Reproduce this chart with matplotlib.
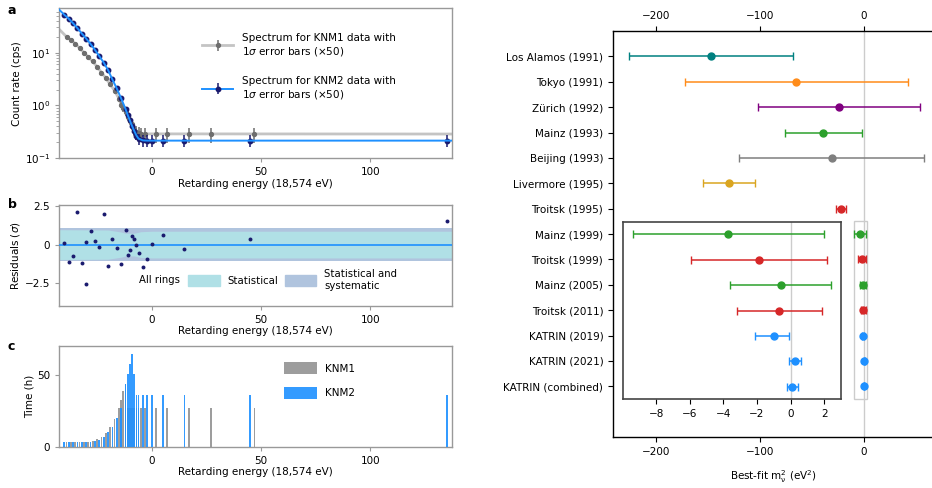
import numpy as np
import matplotlib
matplotlib.use("Agg")
import matplotlib.pyplot as plt
from matplotlib.patches import Rectangle, Patch
from matplotlib.lines import Line2D

plt.rcParams['font.family'] = ['DejaVu Sans']
plt.rcParams['font.size'] = 7
plt.rcParams['mathtext.default'] = 'regular'

# ---------------- data ----------------
# panel a: KNM2 spectrum
knm2_e = [-40, -38, -36, -34, -32, -30, -28, -26, -24, -22, -20, -18, -16, -14, -12, -11, -10, -9, -8, -7, -6, -4, -2, 0, 5, 15, 45, 135]
knm2_rate = [52, 44, 36, 29, 23, 18.5, 14.6, 11.3, 8.6, 6.5, 4.7, 3.1, 2.1, 1.36, 0.86, 0.66, 0.52, 0.41, 0.33, 0.27, 0.235, 0.22, 0.216, 0.216, 0.216, 0.216, 0.216, 0.216]
knm2_err = [1.5, 1.3, 1.1, 1.0, 0.8, 0.7, 0.6, 0.5, 0.4, 0.33, 0.27, 0.2, 0.15, 0.1, 0.07, 0.06, 0.055, 0.05, 0.05, 0.05, 0.055, 0.055, 0.055, 0.055, 0.055, 0.055, 0.055, 0.055]
fit2_e = [-42.5, -40, -38, -36, -34, -32, -30, -28, -26, -24, -22, -20, -18, -16, -14, -12, -11, -10, -9, -8, -7, -6, -4, -2, 0, 137.5]
fit2_rate = [66, 52, 44, 36, 29, 23, 18.5, 14.6, 11.3, 8.6, 6.5, 4.7, 3.1, 2.1, 1.36, 0.86, 0.66, 0.52, 0.41, 0.33, 0.27, 0.235, 0.218, 0.216, 0.216, 0.216]

# panel a: KNM1 spectrum
knm1_e = [-39, -37, -35, -33, -31, -29, -27, -25, -23, -21, -19, -17, -15, -14, -13, -12, -11, -10, -9, -8, -7, -6, -5, -3, 2, 7, 17, 27, 47]
knm1_rate = [20, 17.4, 14.8, 12.2, 10, 8.2, 6.8, 5.4, 4.2, 3.3, 2.5, 1.9, 1.35, 1.04, 0.88, 0.75, 0.61, 0.51, 0.44, 0.36, 0.31, 0.295, 0.29, 0.288, 0.288, 0.288, 0.288, 0.288, 0.288]
knm1_err = [0.9, 0.8, 0.7, 0.6, 0.55, 0.5, 0.45, 0.4, 0.35, 0.3, 0.25, 0.2, 0.15, 0.13, 0.12, 0.11, 0.1, 0.09, 0.09, 0.09, 0.09, 0.09, 0.09, 0.09, 0.09, 0.09, 0.09, 0.09, 0.09]
fit1_e = [-42.5, -39, -37, -35, -33, -31, -29, -27, -25, -23, -21, -19, -17, -15, -14, -13, -12, -11, -10, -9, -8, -7, -6, -5, 137.5]
fit1_rate = [28, 20, 17.4, 14.8, 12.2, 10, 8.2, 6.8, 5.4, 4.2, 3.3, 2.5, 1.9, 1.35, 1.04, 0.88, 0.75, 0.61, 0.51, 0.44, 0.36, 0.31, 0.295, 0.29, 0.288]

# panel b: residuals
res_e = [-40, -38, -36, -34, -32, -30, -29.9, -28, -26, -24, -22, -20, -18, -16, -14, -12, -11, -10, -9, -8, -7, -6, -4, -2, 0, 5, 15, 45, 135]
res_val = [0.11, -1.12, -0.71, 2.15, -1.18, 0.15, -2.54, 0.86, 0.21, -0.17, 1.98, -1.38, 0.37, -0.24, -1.27, 0.95, -0.65, -0.34, 0.58, 0.37, -0.02, -0.54, -1.46, -0.95, 0.04, 0.6, -0.26, 0.34, 1.53]
band_e = [-42.5, -20, -14, -12, -8, -5, 0, 137.5]
band_stat = [0.97, 0.95, 0.82, 0.74, 0.74, 0.84, 0.87, 0.87]
band_total = [1.05, 1.05, 1.05, 1.05, 1.05, 1.05, 1.05, 1.05]

# panel c: measurement time
time2 = [3, 3, 3, 3, 3, 3, 3, 4, 5, 7, 10, 14, 20, 27, 43.5, 50.5, 57.5, 64.7, 50.5, 36, 36, 36, 36, 36, 36, 36, 36, 36]
time1 = [3, 3, 3, 3, 3, 3.6, 4.2, 5.4, 7, 9.8, 13.5, 19, 27, 32.6, 38.4, 43.5, 27, 27, 27, 27, 27, 27, 27, 27, 27, 27, 27, 27, 27]

# right panel: best-fit neutrino mass squared
experiments = ["Los Alamos (1991)", "Tokyo (1991)", "Zürich (1992)", "Mainz (1993)", "Beijing (1993)",
               "Livermore (1995)", "Troitsk (1995)", "Mainz (1999)", "Troitsk (1999)", "Mainz (2005)",
               "Troitsk (2011)", "KATRIN (2019)", "KATRIN (2021)", "KATRIN (combined)"]
m2_best = [-147, -65, -24, -39, -31, -130, -22, -3.7, -1.9, -0.6, -0.67, -1.0, 0.26, 0.1]
m2_err_lo = [79, 107, 78, 37, 89, 25, 5.2, 5.7, 4.05, 3.0, 2.53, 1.1, 0.34, 0.33]
m2_err_hi = [79, 107, 78, 37, 89, 25, 5.2, 5.7, 4.05, 3.0, 2.53, 0.9, 0.34, 0.33]
exp_colors = ["#008080", "#ff8c1a", "#800080", "#2ca02c", "#7f7f7f", "#daa520", "#d62728",
              "#2ca02c", "#d62728", "#2ca02c", "#d62728", "#1e90ff", "#1e90ff", "#1e90ff"]

# ---------------- figure ----------------
W, H = 932, 488
fig = plt.figure(figsize=(W / 100, H / 100), dpi=100)

def box(l, t, r, b):
    return [l / W, 1 - b / H, (r - l) / W, (b - t) / H]

spine_gray = "#999999"
blue = "#1e90ff"
navy = "#1a1a6e"
FS = 7.5

def style_left(ax):
    for s in ax.spines.values():
        s.set_color(spine_gray)
        s.set_linewidth(1.0)
    ax.tick_params(direction='out', length=3, width=0.8, color=spine_gray, labelsize=FS)
    ax.tick_params(which='minor', direction='out', length=2, width=0.6, color=spine_gray)

xlim_left = (-42.3, 137.3)

# panel a
axa = fig.add_axes(box(59.3, 8.3, 451.7, 158.3))
l1, = axa.plot(fit1_e, fit1_rate, color="#c4c4c4", lw=2.0, zorder=1)
e1 = axa.errorbar(knm1_e, knm1_rate, yerr=knm1_err, fmt='o', color="#6e6e6e", ms=2.8, elinewidth=1.1, capsize=0, zorder=3)
e2 = axa.errorbar(knm2_e, knm2_rate, yerr=knm2_err, fmt='o', color=navy, ms=3.2, elinewidth=1.1, capsize=0, zorder=4)
l2, = axa.plot(fit2_e, fit2_rate, color=blue, lw=1.4, zorder=5)
axa.set_yscale('log')
axa.set_ylim(0.1, 69)
axa.set_xlim(*xlim_left)
axa.set_xticks([0, 50, 100])
axa.set_ylabel("Count rate (cps)", fontsize=FS, labelpad=2)
axa.set_xlabel("Retarding energy (18,574 eV)", fontsize=FS, labelpad=1)
style_left(axa)
axa.legend([(l1, e1), (l2, e2)],
           ["Spectrum for KNM1 data with\n1$\\mathit{\\sigma}$ error bars (×50)",
            "Spectrum for KNM2 data with\n1$\\mathit{\\sigma}$ error bars (×50)"],
           loc='upper left', bbox_to_anchor=(0.34, 0.90), frameon=False, fontsize=FS,
           handlelength=3.0, handletextpad=0.8, labelspacing=1.75)
fig.text(8 / W, 1 - 11 / H, "a", fontsize=9, fontweight='bold', va='center')

# panel b
axb = fig.add_axes(box(59.3, 205, 451.7, 306))
axb.fill_between(band_e, [-v for v in band_total], band_total, color="#b0c4de", lw=0, zorder=1)
axb.fill_between(band_e, [-v for v in band_stat], band_stat, color="#b0e0e6", lw=0, zorder=2)
axb.axhline(0, color=blue, lw=1.2, zorder=3)
axb.scatter(res_e, res_val, s=8, color=navy, zorder=4, linewidths=0)
axb.set_xlim(*xlim_left)
axb.set_ylim(-4.0, 2.58)
axb.set_yticks([2.5, 0, -2.5])
axb.set_yticklabels(["2.5", "0", "\u22122.5"])
axb.set_xticks([0, 50, 100])
axb.set_ylabel("Residuals ($\\mathit{\\sigma}$)", fontsize=FS, labelpad=2)
axb.set_xlabel("Retarding energy (18,574 eV)", fontsize=FS, labelpad=1)
style_left(axb)
axb.legend([Patch(color="#b0e0e6"), Patch(color="#b0c4de")],
           ["Statistical", "Statistical and\nsystematic"], ncol=2,
           loc='center left', bbox_to_anchor=(0.305, 0.255), frameon=False, fontsize=7.3,
           handlelength=3.1, handleheight=1.3, handletextpad=0.75, columnspacing=0.7)
axb.text(0.203, 0.255, "All rings", transform=axb.transAxes, fontsize=7.3, va='center', ha='left')
fig.text(8 / W, 1 - 205 / H, "b", fontsize=9, fontweight='bold', va='center')

# panel c
axc = fig.add_axes(box(59.3, 346, 451.7, 446.7))
axc.bar(knm1_e, time1, width=0.8, color="#8c8c8c", alpha=0.85, label="KNM1", zorder=2)
axc.bar(knm2_e, time2, width=0.8, color=blue, alpha=0.9, label="KNM2", zorder=3)
axc.set_xlim(*xlim_left)
axc.set_ylim(0, 70)
axc.set_yticks([0, 50])
axc.set_xticks([0, 50, 100])
axc.set_ylabel("Time (h)", fontsize=FS, labelpad=2)
axc.set_xlabel("Retarding energy (18,574 eV)", fontsize=FS, labelpad=1)
style_left(axc)
axc.legend(loc='upper left', bbox_to_anchor=(0.55, 0.93), frameon=False, fontsize=FS,
           handlelength=3.1, handleheight=1.3, handletextpad=0.8, labelspacing=1.3)
fig.text(8 / W, 1 - 347 / H, "c", fontsize=9, fontweight='bold', va='center')

# right panel
ypos = list(range(len(experiments)))
axr = fig.add_axes(box(613, 31, 934, 437))
axr.axvline(0, color="#cccccc", lw=1.0, zorder=0)
for i in ypos:
    axr.errorbar(m2_best[i], i, xerr=[[m2_err_lo[i]], [m2_err_hi[i]]], fmt='o', color=exp_colors[i],
                 ms=5, elinewidth=1.1, capsize=3, capthick=1.0, zorder=3)
axr.add_patch(Rectangle((-10, 6.5), 13, 7, fill=False, edgecolor="#cccccc", lw=1.0, zorder=2))
axr.set_xlim(-241, 67.3)
axr.set_ylim(15, -1)
axr.set_yticks(ypos)
axr.set_yticklabels(experiments, fontsize=FS)
axr.set_xticks([-200, -100, 0])
axr.set_xticklabels(["\u2212200", "\u2212100", "0"])
axr.tick_params(axis='x', top=True, labeltop=True, direction='out', length=3.5, labelsize=FS)
axr.tick_params(axis='y', direction='out', length=3.5)
axr.spines['right'].set_visible(False)
for s in ['left', 'top', 'bottom']:
    axr.spines[s].set_linewidth(1.0)
axr.set_xlabel("Best-fit m$_{\\nu}^{2}$ (eV$^{2}$)", fontsize=FS, labelpad=8)

# inset
axi = fig.add_axes(box(622.7, 221.7, 841, 399.3))
axi.axvline(0, color="#cccccc", lw=1.0, zorder=0)
for i in ypos:
    axi.errorbar(m2_best[i], i, xerr=[[m2_err_lo[i]], [m2_err_hi[i]]], fmt='o', color=exp_colors[i],
                 ms=5, elinewidth=1.1, capsize=3, capthick=1.0, zorder=3)
axi.set_xlim(-10, 3)
axi.set_ylim(13.5, 6.5)
axi.set_yticks([])
axi.set_xticks([-8, -6, -4, -2, 0, 2])
axi.set_xticklabels(["\u22128", "\u22126", "\u22124", "\u22122", "0", "2"])
axi.tick_params(axis='x', direction='out', length=3.5, labelsize=FS)
for s in axi.spines.values():
    s.set_color("#444444")
    s.set_linewidth(1.2)

fig.savefig("out.png", dpi=100)
